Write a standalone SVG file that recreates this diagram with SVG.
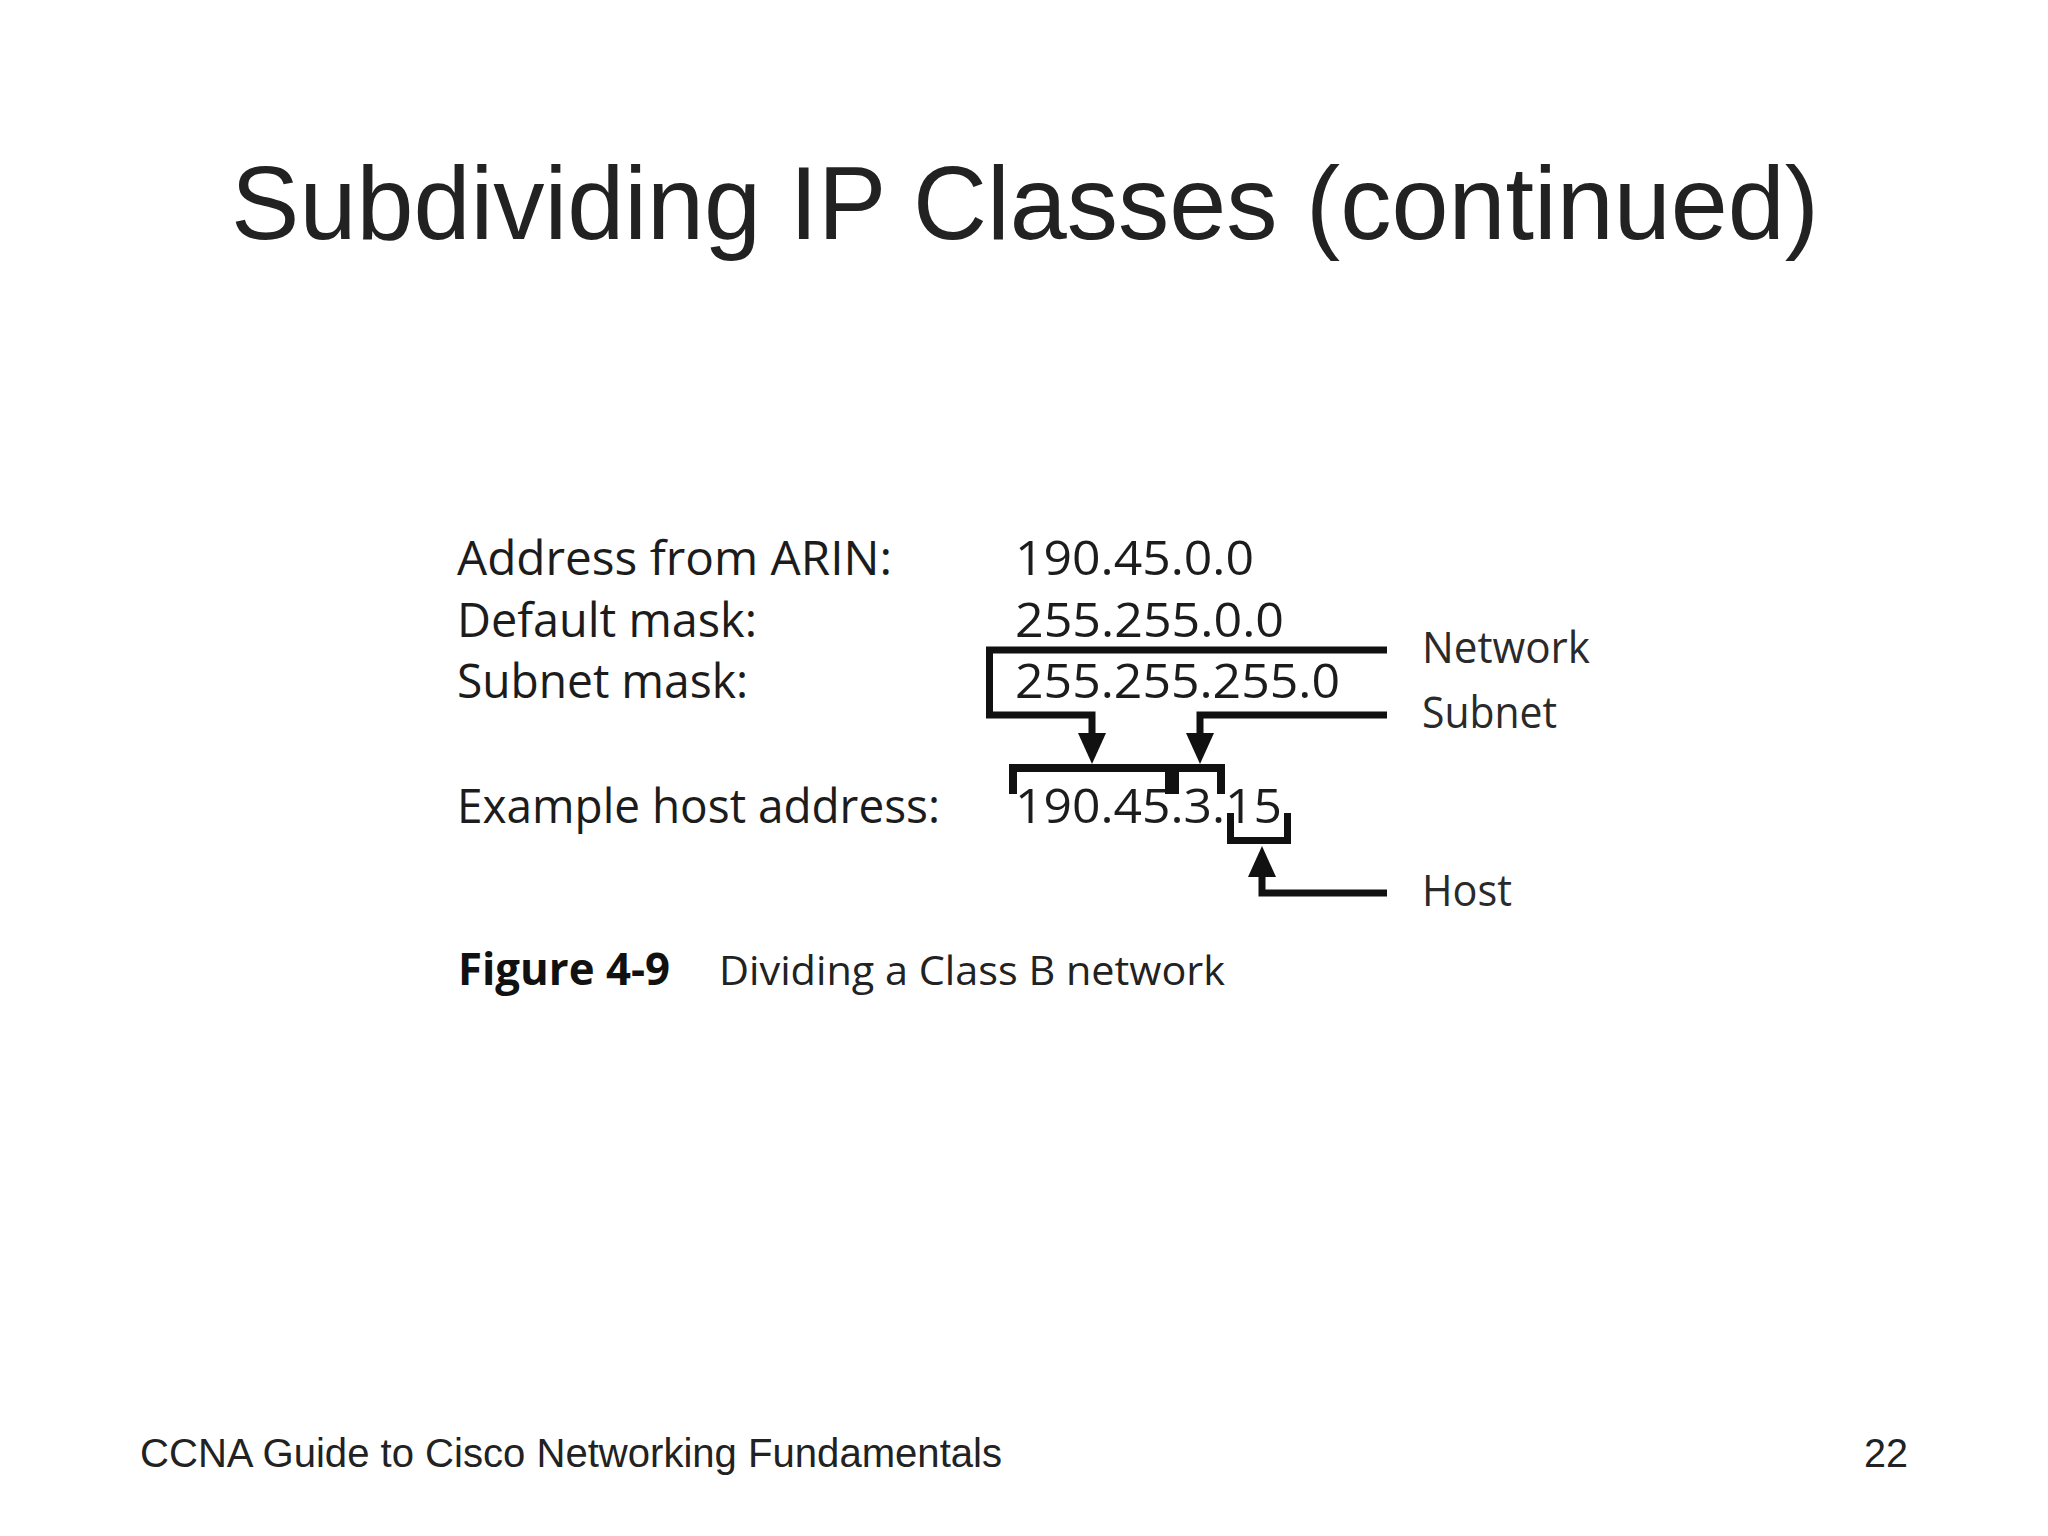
<svg xmlns="http://www.w3.org/2000/svg" width="2048" height="1536" viewBox="0 0 2048 1536">
  <defs>
    <marker id="arrow" markerUnits="userSpaceOnUse" markerWidth="32" markerHeight="28" refX="0" refY="14" orient="auto" viewBox="0 0 32 28">
      <path d="M0,0 L31,14 L0,28 z" fill="#111"/>
    </marker>
    <style>
      .title { font-family: "Liberation Sans", Arial, sans-serif; font-size: 103px; fill: #222; }
      .footer { font-family: "Liberation Sans", Arial, sans-serif; font-size: 40px; fill: #222; }
      .fig { font-family: "Open Sans", "Noto Sans", sans-serif; font-size: 48px; fill: #1c1c1c; }
      .lbl { font-family: "Open Sans", "Noto Sans", sans-serif; font-size: 44px; fill: #2a2a2a; }
      .capb { font-family: "Open Sans", "Noto Sans", sans-serif; font-size: 44px; font-weight: bold; fill: #111; }
      .cap { font-family: "Open Sans", "Noto Sans", sans-serif; font-size: 41px; fill: #222; }
      .conn { fill: none; stroke: #111; stroke-width: 7; stroke-linejoin: miter; stroke-linecap: butt; }
      .bar { fill: #111; }
    </style>
  </defs>
  <rect x="0" y="0" width="2048" height="1536" fill="#ffffff"/>

  <g id="title">
    <text class="title" x="231" y="239" textLength="1588" lengthAdjust="spacingAndGlyphs">Subdividing IP Classes (continued)</text>
  </g>

  <g id="row-arin">
    <text class="fig" x="457" y="575" textLength="435" lengthAdjust="spacingAndGlyphs">Address from ARIN:</text>
    <text class="fig" x="1015" y="575" textLength="239" lengthAdjust="spacingAndGlyphs">190.45.0.0</text>
  </g>
  <g id="row-default">
    <text class="fig" x="457" y="637" textLength="300" lengthAdjust="spacingAndGlyphs">Default mask:</text>
    <text class="fig" x="1015" y="637" textLength="269" lengthAdjust="spacingAndGlyphs">255.255.0.0</text>
  </g>
  <g id="row-subnet">
    <text class="fig" x="457" y="698" textLength="291" lengthAdjust="spacingAndGlyphs">Subnet mask:</text>
    <text class="fig" x="1015" y="698" textLength="325" lengthAdjust="spacingAndGlyphs">255.255.255.0</text>
  </g>
  <g id="row-host">
    <text class="fig" x="457" y="823" textLength="483" lengthAdjust="spacingAndGlyphs">Example host address:</text>
    <text class="fig" x="1015" y="823" textLength="267" lengthAdjust="spacingAndGlyphs">190.45.3.15</text>
  </g>

  <g id="label-network">
    <text class="lbl" x="1422" y="663" textLength="168" lengthAdjust="spacingAndGlyphs">Network</text>
  </g>
  <g id="label-subnet">
    <text class="lbl" x="1422" y="728" textLength="135" lengthAdjust="spacingAndGlyphs">Subnet</text>
  </g>
  <g id="label-host">
    <text class="lbl" x="1422" y="906" textLength="90" lengthAdjust="spacingAndGlyphs">Host</text>
  </g>

  <g id="connectors">
    <path class="conn" d="M1387,650 H989.5 V715 H1092 V733" marker-end="url(#arrow)"/>
    <path class="conn" d="M1387,715 H1200 V733" marker-end="url(#arrow)"/>
    <path class="conn" d="M1387,893 H1262 V877" marker-end="url(#arrow)"/>
    <g id="bracket-network-subnet">
      <rect class="bar" x="1009" y="764" width="216" height="8"/>
      <rect class="bar" x="1009" y="764" width="8" height="30"/>
      <rect class="bar" x="1165" y="764" width="14" height="30"/>
      <rect class="bar" x="1217" y="764" width="8" height="30"/>
    </g>
    <path id="bracket-host" class="conn" d="M1230.5,813 V840.5 H1287.5 V813"/>
  </g>

  <g id="caption">
    <text class="capb" x="458" y="985" textLength="212" lengthAdjust="spacingAndGlyphs">Figure 4-9</text>
    <text class="cap" x="719" y="985" textLength="506" lengthAdjust="spacingAndGlyphs">Dividing a Class B network</text>
  </g>

  <g id="footer">
    <text class="footer" x="140" y="1467" textLength="862" lengthAdjust="spacingAndGlyphs">CCNA Guide to Cisco Networking Fundamentals</text>
    <text class="footer" x="1864" y="1467" textLength="44" lengthAdjust="spacingAndGlyphs">22</text>
  </g>
</svg>
